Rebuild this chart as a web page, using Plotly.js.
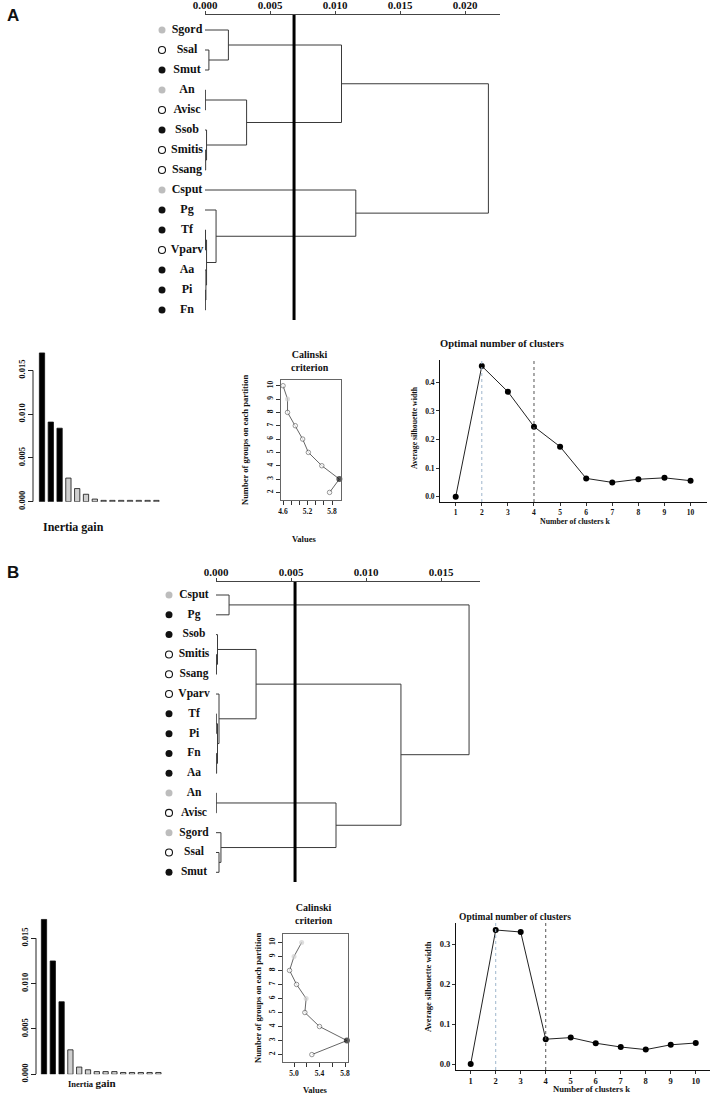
<!DOCTYPE html>
<html>
<head>
<meta charset="utf-8">
<script src="https://cdn.plot.ly/plotly-3.0.1.min.js"></script>
<style>
  html, body { margin: 0; padding: 0; background: #fff; }
  #fig { width: 714px; height: 1101px; }
</style>
</head>
<body>
<div id="fig"></div>
<script>
(function () {
  "use strict";

  // ---- panel A dendrogram ----
  const LEAVES_A = ["Sgord", "Ssal", "Smut", "An", "Avisc", "Ssob", "Smitis", "Ssang", "Csput", "Pg", "Tf", "Vparv", "Aa", "Pi", "Fn"];
  const LEAF_GROUP_A = ["g", "o", "b", "g", "o", "b", "o", "o", "g", "b", "b", "o", "b", "b", "b"];
  const MERGE_A = [[-7, -8], [-6, 1], [-4, -5], [-11, -12], [-14, -15], [-13, 5], [4, 6], [-10, 7], [-2, -3], [-1, 9], [3, 2], [10, 11], [-9, 8], [12, 13]];
  const HEIGHT_A = [0.00005, 0.00012, 0.00003, 0.00004, 0.00003, 0.00007, 0.00012, 0.00085, 0.0003, 0.0018, 0.0032, 0.0105, 0.0116, 0.0218];
  const CUT_A = 0.00685;

  // ---- panel B dendrogram ----
  const LEAVES_B = ["Csput", "Pg", "Ssob", "Smitis", "Ssang", "Vparv", "Tf", "Pi", "Fn", "Aa", "An", "Avisc", "Sgord", "Ssal", "Smut"];
  const LEAF_GROUP_B = ["g", "b", "b", "o", "o", "o", "b", "b", "b", "b", "g", "o", "g", "o", "b"];
  const MERGE_B = [[-1, -2], [-4, -5], [-3, 2], [-7, -8], [-9, -10], [4, 5], [-6, 6], [3, 7], [-11, -12], [-14, -15], [-13, 10], [9, 11], [8, 12], [1, 13]];
  const HEIGHT_B = [0.00087, 0.00003, 0.0001, 0.00002, 0.00004, 0.0001, 0.0002, 0.00267, 0.00002, 0.0002, 0.00033, 0.008, 0.01233, 0.01687];
  const CUT_B = 0.00527;

  // ---- inertia gain ----
  const GAIN_A = [0.0170, 0.0091, 0.0084, 0.0027, 0.0015, 0.00085, 0.0003, 0.00015, 0.00015, 0.00015, 0.00015, 0.00015, 0.00015, 0.00015];
  const GAIN_B = [0.01708, 0.0125, 0.0080, 0.0027, 0.0008, 0.0005, 0.0003, 0.0003, 0.0003, 0.0002, 0.0002, 0.0002, 0.0002, 0.0002];
  const N_CLUST = 3;

  // ---- Calinski criterion ----
  const CAL_K = [10, 9, 8, 7, 6, 5, 4, 3, 2];
  const CAL_A = [4.60, 4.71, 4.71, 4.90, 5.08, 5.22, 5.55, 5.98, 5.74];
  const CAL_TYPE_A = ["o", "g", "o", "o", "o", "o", "o", "b", "o"];
  const CAL_B = [5.12, 5.00, 4.93, 5.04, 5.19, 5.17, 5.40, 5.83, 5.28];
  const CAL_TYPE_B = ["g", "g", "o", "o", "g", "o", "o", "b", "o"];

  // ---- silhouette ----
  const SIL_K = [1, 2, 3, 4, 5, 6, 7, 8, 9, 10];
  const SIL_A = [0.0, 0.457, 0.367, 0.245, 0.175, 0.064, 0.050, 0.061, 0.066, 0.056];
  const SIL_B = [0.0, 0.335, 0.330, 0.062, 0.066, 0.052, 0.0425, 0.036, 0.048, 0.0525];
  const SIL_VLINES = [2, 4];

  const W = 714, H = 1101;
  const SERIF = '"Liberation Serif", "DejaVu Serif", serif';
  const SANS = '"Liberation Sans", Arial, sans-serif';

  const px = (a, b) => [a / W, b / W];
  const py = (top, bottom) => [1 - bottom / H, 1 - top / H];

  const DOT = {
    g: { color: "#bdbdbd", line: { color: "#bdbdbd", width: 0 } },
    o: { color: "#ffffff", line: { color: "#111", width: 1.1 } },
    b: { color: "#111111", line: { color: "#111", width: 0 } }
  };
  const CAL_DOT = {
    g: { color: "#d0d0d0", size: 5, line: { color: "#d0d0d0", width: 0 } },
    o: { color: "#ffffff", size: 4.5, line: { color: "#444", width: 0.8 } },
    b: { color: "#111111", size: 6, line: { color: "#111", width: 0 } }
  };

  function dendroSegments(merges, heights) {
    const pos = [];
    const node = (ref) => (ref < 0 ? { x: 0, y: -ref } : pos[ref - 1]);
    const xs = [], ys = [];
    merges.forEach((m, i) => {
      const a = node(m[0]), b = node(m[1]), h = heights[i];
      xs.push(a.x, h, h, b.x, null);
      ys.push(a.y, a.y, b.y, b.y, null);
      pos.push({ x: h, y: (a.y + b.y) / 2 });
    });
    return { x: xs, y: ys };
  }

  const traces = [];
  const shapes = [];
  const annotations = [];
  const layout = {
    width: W, height: H,
    margin: { l: 0, r: 0, t: 0, b: 0 },
    paper_bgcolor: "#ffffff",
    plot_bgcolor: "rgba(0,0,0,0)",
    showlegend: false,
    shapes: shapes,
    annotations: annotations
  };

  function ann(text, x, y, size, extra) {
    annotations.push(Object.assign({
      text: text, x: x / W, y: 1 - y / H, xref: "paper", yref: "paper",
      showarrow: false, xanchor: "center", yanchor: "middle",
      font: { family: SERIF, size: size, color: "#111", weight: "bold" }
    }, extra || {}));
  }

  function hidden(domain, range, anchor) {
    return { domain: domain, range: range, visible: false, anchor: anchor, fixedrange: true };
  }

  // ---------- dendrograms ----------
  function dendrogram(o) {
    const seg = dendroSegments(o.merges, o.heights);
    traces.push({
      type: "scatter", mode: "lines", x: seg.x, y: seg.y,
      xaxis: o.xa, yaxis: o.ya, line: { color: "#3a3a3a", width: 1 }, hoverinfo: "skip"
    });
    traces.push({
      type: "scatter", mode: "lines", x: [o.cut, o.cut], y: o.yRange,
      xaxis: o.xa, yaxis: o.ya, line: { color: "#000", width: 3 }, hoverinfo: "skip"
    });
    const idx = o.leaves.map((_, i) => i + 1);
    traces.push({
      type: "scatter", mode: "markers", x: idx.map(() => o.dotX), y: idx,
      xaxis: o.la, yaxis: o.ya, hoverinfo: "skip",
      marker: {
        size: 7,
        color: o.groups.map((g) => DOT[g].color),
        line: { color: o.groups.map((g) => DOT[g].line.color), width: o.groups.map((g) => DOT[g].line.width) }
      }
    });
    traces.push({
      type: "scatter", mode: "text", x: idx.map(() => o.textX), y: idx, text: o.leaves,
      xaxis: o.la, yaxis: o.ya, hoverinfo: "skip", textposition: "middle center",
      textfont: { family: SERIF, size: o.fs, color: "#111", weight: "bold" }
    });
  }

  dendrogram({ leaves: LEAVES_A, groups: LEAF_GROUP_A, merges: MERGE_A, heights: HEIGHT_A, cut: CUT_A,
    xa: "x", ya: "y", la: "x3", yRange: [15.5, 0.25], dotX: 162, textX: 187, fs: 12 });
  dendrogram({ leaves: LEAVES_B, groups: LEAF_GROUP_B, merges: MERGE_B, heights: HEIGHT_B, cut: CUT_B,
    xa: "x2", ya: "y2", la: "x4", yRange: [15.49, 0.343], dotX: 169, textX: 194, fs: 11.5 });

  const topAxis = (domain, range, anchor, ticks) => ({
    domain: domain, range: range, anchor: anchor, side: "top",
    showline: true, linecolor: "#444", linewidth: 1,
    ticks: "outside", ticklen: 3, tickcolor: "#444", tickwidth: 1,
    ticklabelstandoff: -2,
    tickvals: ticks, tickformat: ".3f",
    tickfont: { family: SERIF, size: 11, color: "#111", weight: "bold" },
    showgrid: false, zeroline: false, fixedrange: true
  });
  layout.xaxis = topAxis(px(205, 500), [0, 295 / 13000], "y", [0, 0.005, 0.01, 0.015, 0.02]);
  layout.yaxis = hidden(py(15, 320), [15.5, 0.25], "x");
  layout.xaxis3 = hidden(px(150, 204), [150, 204], "y");
  layout.xaxis2 = topAxis(px(216, 480), [0, 264 / 15000], "y2", [0, 0.005, 0.01, 0.015]);
  layout.yaxis2 = hidden(py(582, 882), [15.49, 0.343], "x2");
  layout.xaxis4 = hidden(px(150, 214), [150, 214], "y2");

  ann("A", 13, 16, 17, { font: { family: SANS, size: 17, color: "#111", weight: "bold" } });
  ann("B", 13, 572, 17, { font: { family: SANS, size: 17, color: "#111", weight: "bold" } });

  // ---------- inertia gain bars ----------
  function inertia(o) {
    const xs = o.gain.map((_, i) => i + 1);
    traces.push({
      type: "bar", x: xs, y: o.gain, xaxis: o.xa, yaxis: o.ya, width: 0.6, hoverinfo: "skip",
      marker: { color: o.gain.map((_, i) => (i < N_CLUST ? "#000" : "#cfcfcf")), line: { color: "#111", width: 0.8 } }
    });
    const yk = o.ya.replace("y", "yaxis");
    const xk = o.xa.replace("x", "xaxis");
    layout[xk] = hidden(o.xDom, [0.5, xs.length + 0.5], o.ya);
    layout[yk] = {
      domain: o.yDom, range: o.yRange, anchor: "free", position: o.axisX / W,
      showline: false, showgrid: false, zeroline: false,
      ticks: "outside", ticklen: 5, tickcolor: "#222", tickwidth: 1,
      tickvals: o.ticks, tickformat: ".3f", tickangle: -90,
      tickfont: { family: SERIF, size: 8.5, color: "#111", weight: "bold" }, fixedrange: true
    };
    shapes.push({ type: "line", xref: "paper", yref: o.ya, x0: o.axisX / W, x1: o.axisX / W,
      y0: o.ticks[0], y1: o.ticks[o.ticks.length - 1], line: { color: "#222", width: 1 } });
  }
  inertia({ gain: GAIN_A, xa: "x5", ya: "y5", xDom: px(37.6, 160.8), yDom: py(345, 501.7),
    yRange: [0, 156.7 / 8750], axisX: 33, ticks: [0, 0.005, 0.01, 0.015] });
  inertia({ gain: GAIN_B, xa: "x6", ya: "y6", xDom: px(39.6, 162.8), yDom: py(918, 1074.3),
    yRange: [0, 156.3 / 9067], axisX: 36, ticks: [0, 0.005, 0.01, 0.015] });
  ann("Inertia gain", 73, 527, 12);
  ann("<span style=\"font-size:8.5px\">Inertia</span> <span style=\"font-size:11px\">gain</span>", 92, 1083, 9.5);

  // ---------- Calinski ----------
  function calinski(o) {
    traces.push({
      type: "scatter", mode: "lines+markers", x: o.vals, y: CAL_K, xaxis: o.xa, yaxis: o.ya, hoverinfo: "skip",
      line: { color: "#555", width: 0.9 },
      marker: {
        size: o.types.map((t) => CAL_DOT[t].size),
        color: o.types.map((t) => CAL_DOT[t].color),
        line: { color: o.types.map((t) => CAL_DOT[t].line.color), width: o.types.map((t) => CAL_DOT[t].line.width) }
      },
      cliponaxis: false
    });
    const tickFont = { family: SERIF, size: 7.5, color: "#111", weight: "bold" };
    layout[o.xa.replace("x", "xaxis")] = {
      domain: o.xDom, range: o.xRange, anchor: o.ya,
      showline: true, mirror: true, linecolor: "#666", linewidth: 1,
      ticks: "outside", ticklen: 4, tickcolor: "#333",
      tickvals: o.xTicks, ticktext: o.xTicks.map((v) => (o.xLabels.indexOf(v) >= 0 ? v.toFixed(1) : "")),
      tickfont: tickFont, showgrid: false, zeroline: false, fixedrange: true
    };
    layout[o.ya.replace("y", "yaxis")] = {
      domain: o.yDom, range: o.yRange, anchor: o.xa,
      showline: true, mirror: true, linecolor: "#666", linewidth: 1,
      ticks: "outside", ticklen: 4, tickcolor: "#333",
      tickvals: [2, 3, 4, 5, 6, 7, 8, 9, 10], tickangle: -90,
      tickfont: tickFont, showgrid: false, zeroline: false, fixedrange: true
    };
  }
  calinski({ vals: CAL_A, types: CAL_TYPE_A, xa: "x7", ya: "y7", xDom: px(281, 341), yDom: py(380, 500),
    xRange: [4.55, 6.02], yRange: [1.43, 10.43], xTicks: [4.6, 4.8, 5.0, 5.2, 5.4, 5.6, 5.8], xLabels: [4.6, 5.2, 5.8] });
  calinski({ vals: CAL_B, types: CAL_TYPE_B, xa: "x8", ya: "y8", xDom: px(283, 348), yDom: py(934, 1062),
    xRange: [4.827, 5.847], yRange: [1.47, 10.6], xTicks: [5.0, 5.2, 5.4, 5.6, 5.8], xLabels: [5.0, 5.4, 5.8] });
  ann("Calinski<br>criterion", 310, 361, 10);
  ann("Calinski<br>criterion", 314, 914, 10);
  ann("Values", 304, 539, 8.5);
  ann("Values", 315, 1090, 8.5);
  ann("Number of groups on each partition", 245, 440, 8.5, { textangle: -90 });
  ann("Number of groups on each partition", 258, 998, 8.5, { textangle: -90 });

  // ---------- silhouette ----------
  function silhouette(o) {
    SIL_VLINES.forEach((k, i) => {
      shapes.push({ type: "line", xref: o.xa, yref: o.ya + " domain", x0: k, x1: k, y0: 0, y1: 1,
        line: { color: i === 0 ? "#9fb6cc" : "#555", width: 1, dash: "dot" } });
    });
    traces.push({
      type: "scatter", mode: "lines+markers", x: SIL_K, y: o.vals, xaxis: o.xa, yaxis: o.ya, hoverinfo: "skip",
      line: { color: "#222", width: 1 }, marker: { color: "#000", size: 6 }, cliponaxis: false
    });
    const tickFont = { family: SERIF, size: o.fs, color: "#111", weight: "bold" };
    layout[o.xa.replace("x", "xaxis")] = {
      domain: o.xDom, range: o.xRange, anchor: o.ya,
      showline: true, linecolor: "#111", linewidth: 1,
      ticks: "outside", ticklen: 3, tickcolor: "#333", tickvals: SIL_K,
      tickfont: tickFont, showgrid: false, zeroline: false, fixedrange: true
    };
    layout[o.ya.replace("y", "yaxis")] = {
      domain: o.yDom, range: o.yRange, anchor: o.xa,
      showline: true, linecolor: "#111", linewidth: 1,
      ticks: "outside", ticklen: 3, tickcolor: "#333", tickvals: o.yTicks, tickformat: ".1f",
      tickfont: tickFont, showgrid: false, zeroline: false, fixedrange: true
    };
  }
  silhouette({ vals: SIL_A, xa: "x9", ya: "y9", xDom: px(440, 707), yDom: py(360, 502),
    xRange: [0.398, 10.63], yRange: [-0.0185, 0.478], yTicks: [0, 0.1, 0.2, 0.3, 0.4], fs: 7.5 });
  silhouette({ vals: SIL_B, xa: "x10", ya: "y10", xDom: px(456, 710), yDom: py(923, 1070),
    xRange: [0.412, 10.57], yRange: [-0.015, 0.3525], yTicks: [0, 0.1, 0.2, 0.3], fs: 8.5 });
  ann("Optimal number of clusters", 438, 343, 10.5, { xanchor: "left" });
  ann("Optimal number of clusters", 457, 917, 9.5, { xanchor: "left" });
  ann("Average silhouette width", 415, 428, 7.8, { textangle: -90 });
  ann("Average silhouette width", 428, 987, 8.6, { textangle: -90 });
  ann("Number of clusters k", 575, 521, 7.8);
  ann("Number of clusters k", 591, 1089, 8.6);

  Plotly.newPlot("fig", traces, layout, { displayModeBar: false, staticPlot: true });
})();
</script>
</body>
</html>
